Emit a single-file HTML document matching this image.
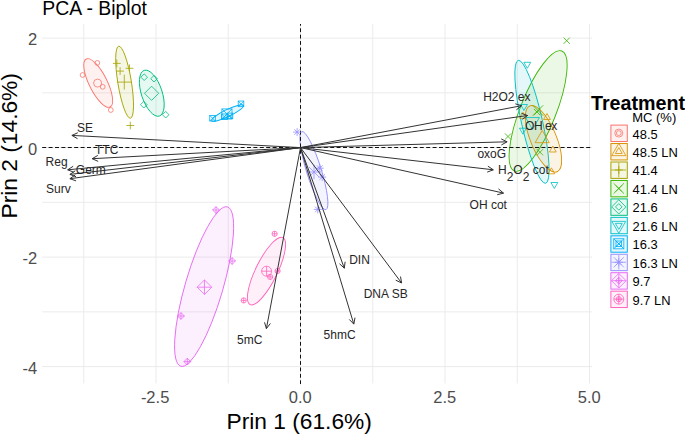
<!DOCTYPE html>
<html><head><meta charset="utf-8"><style>
html,body{margin:0;padding:0;background:#fff;width:685px;height:434px;overflow:hidden;position:relative}
body{font-family:"Liberation Sans",sans-serif;}
.t{position:absolute;white-space:nowrap;line-height:1;}
</style></head><body>
<svg width="685" height="434" viewBox="0 0 685 434" style="position:absolute;left:0;top:0">
<line x1="83.75" y1="24.0" x2="83.75" y2="383.5" stroke="#EBEBEB" stroke-width="1"/>
<line x1="156.00" y1="24.0" x2="156.00" y2="383.5" stroke="#EBEBEB" stroke-width="1"/>
<line x1="228.25" y1="24.0" x2="228.25" y2="383.5" stroke="#EBEBEB" stroke-width="1"/>
<line x1="300.50" y1="24.0" x2="300.50" y2="383.5" stroke="#EBEBEB" stroke-width="1"/>
<line x1="372.75" y1="24.0" x2="372.75" y2="383.5" stroke="#EBEBEB" stroke-width="1"/>
<line x1="445.00" y1="24.0" x2="445.00" y2="383.5" stroke="#EBEBEB" stroke-width="1"/>
<line x1="517.25" y1="24.0" x2="517.25" y2="383.5" stroke="#EBEBEB" stroke-width="1"/>
<line x1="589.50" y1="24.0" x2="589.50" y2="383.5" stroke="#EBEBEB" stroke-width="1"/>
<line x1="42.2" y1="38.10" x2="592.0" y2="38.10" stroke="#EBEBEB" stroke-width="1"/>
<line x1="42.2" y1="92.85" x2="592.0" y2="92.85" stroke="#EBEBEB" stroke-width="1"/>
<line x1="42.2" y1="147.60" x2="592.0" y2="147.60" stroke="#EBEBEB" stroke-width="1"/>
<line x1="42.2" y1="202.35" x2="592.0" y2="202.35" stroke="#EBEBEB" stroke-width="1"/>
<line x1="42.2" y1="257.10" x2="592.0" y2="257.10" stroke="#EBEBEB" stroke-width="1"/>
<line x1="42.2" y1="311.85" x2="592.0" y2="311.85" stroke="#EBEBEB" stroke-width="1"/>
<line x1="42.2" y1="366.60" x2="592.0" y2="366.60" stroke="#EBEBEB" stroke-width="1"/>
<ellipse cx="98.20" cy="83.00" rx="26.82" ry="9.01" transform="rotate(63.47 98.20 83.00)" fill="#F8766D" fill-opacity="0.1" stroke="#F8766D" stroke-width="0.9"/>
<ellipse cx="124.60" cy="82.20" rx="36.50" ry="6.78" transform="rotate(80.73 124.60 82.20)" fill="#A3A500" fill-opacity="0.1" stroke="#A3A500" stroke-width="0.9"/>
<ellipse cx="151.79" cy="93.19" rx="24.08" ry="10.34" transform="rotate(71.57 151.79 93.19)" fill="#00BF7D" fill-opacity="0.1" stroke="#00BF7D" stroke-width="0.9"/>
<ellipse cx="227.58" cy="113.11" rx="17.65" ry="3.50" transform="rotate(-25.79 227.58 113.11)" fill="#00B0F6" fill-opacity="0.1" stroke="#00B0F6" stroke-width="0.9"/>
<ellipse cx="313.90" cy="170.62" rx="40.85" ry="7.39" transform="rotate(72.77 313.90 170.62)" fill="#9590FF" fill-opacity="0.1" stroke="#9590FF" stroke-width="0.9"/>
<ellipse cx="204.11" cy="286.56" rx="83.02" ry="18.88" transform="rotate(-73.69 204.11 286.56)" fill="#E76BF3" fill-opacity="0.1" stroke="#E76BF3" stroke-width="0.9"/>
<ellipse cx="266.50" cy="271.06" rx="37.30" ry="10.81" transform="rotate(-63.92 266.50 271.06)" fill="#FF62BC" fill-opacity="0.1" stroke="#FF62BC" stroke-width="0.9"/>
<ellipse cx="538.10" cy="110.95" rx="64.50" ry="17.90" transform="rotate(-68.40 538.10 110.95)" fill="#39B600" fill-opacity="0.1" stroke="#39B600" stroke-width="0.9"/>
<ellipse cx="531.97" cy="121.83" rx="63.00" ry="10.50" transform="rotate(77.42 531.97 121.83)" fill="#00BFC4" fill-opacity="0.1" stroke="#00BFC4" stroke-width="0.9"/>
<ellipse cx="543.49" cy="138.84" rx="35.64" ry="12.93" transform="rotate(67.39 543.49 138.84)" fill="#D89000" fill-opacity="0.1" stroke="#D89000" stroke-width="0.9"/>
<line x1="300.5" y1="384.1" x2="300.5" y2="24.0" stroke="#111" stroke-width="1" stroke-dasharray="3.8 2.6"/>
<line x1="42.2" y1="147.5" x2="592.0" y2="147.5" stroke="#111" stroke-width="1" stroke-dasharray="4 2.4"/>
<circle cx="97.30" cy="62.90" r="2.40" fill="none" stroke="#F8766D" stroke-width="0.8"/>
<circle cx="82.60" cy="75.00" r="2.40" fill="none" stroke="#F8766D" stroke-width="0.8"/>
<circle cx="102.70" cy="86.80" r="2.40" fill="none" stroke="#F8766D" stroke-width="0.8"/>
<circle cx="110.80" cy="110.00" r="2.40" fill="none" stroke="#F8766D" stroke-width="0.8"/>
<circle cx="97.60" cy="83.10" r="4.00" fill="none" stroke="#F8766D" stroke-width="0.8"/>
<polygon points="523.00,112.32 519.55,118.29 526.45,118.29" fill="none" stroke="#D89000" stroke-width="0.8"/>
<polygon points="547.00,113.52 543.55,119.49 550.45,119.49" fill="none" stroke="#D89000" stroke-width="0.8"/>
<polygon points="552.80,146.02 549.35,151.99 556.25,151.99" fill="none" stroke="#D89000" stroke-width="0.8"/>
<polygon points="551.40,167.82 547.95,173.79 554.85,173.79" fill="none" stroke="#D89000" stroke-width="0.8"/>
<polygon points="542.20,130.40 535.10,142.70 549.30,142.70" fill="none" stroke="#D89000" stroke-width="0.8"/>
<path d="M112.90,63.40H120.70M116.80,59.50V67.30" fill="none" stroke="#A3A500" stroke-width="0.8"/>
<path d="M116.20,71.10H124.00M120.10,67.20V75.00" fill="none" stroke="#A3A500" stroke-width="0.8"/>
<path d="M125.60,68.30H133.40M129.50,64.40V72.20" fill="none" stroke="#A3A500" stroke-width="0.8"/>
<path d="M126.40,125.50H134.20M130.30,121.60V129.40" fill="none" stroke="#A3A500" stroke-width="0.8"/>
<path d="M116.90,82.10H131.70M124.30,74.70V89.50" fill="none" stroke="#A3A500" stroke-width="0.8"/>
<path d="M563.58,37.58L569.82,43.82M563.58,43.82L569.82,37.58" fill="none" stroke="#39B600" stroke-width="0.8"/>
<path d="M533.88,108.88L540.12,115.12M533.88,115.12L540.12,108.88" fill="none" stroke="#39B600" stroke-width="0.8"/>
<path d="M504.88,133.38L511.12,139.62M504.88,139.62L511.12,133.38" fill="none" stroke="#39B600" stroke-width="0.8"/>
<path d="M536.88,149.08L543.12,155.32M536.88,155.32L543.12,149.08" fill="none" stroke="#39B600" stroke-width="0.8"/>
<path d="M532.80,105.30L543.20,115.70M532.80,115.70L543.20,105.30" fill="none" stroke="#39B600" stroke-width="0.8"/>
<polygon points="144.20,73.90 147.50,77.20 144.20,80.50 140.90,77.20" fill="none" stroke="#00BF7D" stroke-width="0.8"/>
<polygon points="154.00,75.40 157.30,78.70 154.00,82.00 150.70,78.70" fill="none" stroke="#00BF7D" stroke-width="0.8"/>
<polygon points="143.80,101.40 147.10,104.70 143.80,108.00 140.50,104.70" fill="none" stroke="#00BF7D" stroke-width="0.8"/>
<polygon points="165.70,111.40 169.00,114.70 165.70,118.00 162.40,114.70" fill="none" stroke="#00BF7D" stroke-width="0.8"/>
<polygon points="151.60,86.20 158.70,93.30 151.60,100.40 144.50,93.30" fill="none" stroke="#00BF7D" stroke-width="0.8"/>
<polygon points="527.30,68.28 523.85,62.31 530.75,62.31" fill="none" stroke="#00BFC4" stroke-width="0.8"/>
<polygon points="524.00,110.48 520.55,104.51 527.45,104.51" fill="none" stroke="#00BFC4" stroke-width="0.8"/>
<polygon points="522.90,134.18 519.45,128.21 526.35,128.21" fill="none" stroke="#00BFC4" stroke-width="0.8"/>
<polygon points="554.35,188.48 550.90,182.51 557.80,182.51" fill="none" stroke="#00BFC4" stroke-width="0.8"/>
<polygon points="532.50,129.47 525.60,117.52 539.40,117.52" fill="none" stroke="#00BFC4" stroke-width="0.8"/>
<rect x="209.75" y="115.45" width="5.60" height="5.60" fill="none" stroke="#00B0F6" stroke-width="0.8"/><path d="M209.75,115.45L215.35,121.05M209.75,121.05L215.35,115.45" fill="none" stroke="#00B0F6" stroke-width="0.8"/>
<rect x="238.20" y="101.05" width="5.60" height="5.60" fill="none" stroke="#00B0F6" stroke-width="0.8"/><path d="M238.20,101.05L243.80,106.65M238.20,106.65L243.80,101.05" fill="none" stroke="#00B0F6" stroke-width="0.8"/>
<rect x="221.60" y="114.00" width="5.60" height="5.60" fill="none" stroke="#00B0F6" stroke-width="0.8"/><path d="M221.60,114.00L227.20,119.60M221.60,119.60L227.20,114.00" fill="none" stroke="#00B0F6" stroke-width="0.8"/>
<rect x="227.20" y="113.10" width="5.60" height="5.60" fill="none" stroke="#00B0F6" stroke-width="0.8"/><path d="M227.20,113.10L232.80,118.70M227.20,118.70L232.80,113.10" fill="none" stroke="#00B0F6" stroke-width="0.8"/>
<rect x="221.91" y="108.91" width="10.08" height="10.08" fill="none" stroke="#00B0F6" stroke-width="0.8"/><path d="M221.91,108.91L231.99,118.99M221.91,118.99L231.99,108.91" fill="none" stroke="#00B0F6" stroke-width="0.8"/>
<path d="M293.10,132.10H301.10M297.10,128.10V136.10M294.30,129.30L299.90,134.90M294.30,134.90L299.90,129.30" fill="none" stroke="#9590FF" stroke-width="0.8"/>
<path d="M315.70,168.20H323.70M319.70,164.20V172.20M316.90,165.40L322.50,171.00M316.90,171.00L322.50,165.40" fill="none" stroke="#9590FF" stroke-width="0.8"/>
<path d="M318.20,177.10H326.20M322.20,173.10V181.10M319.40,174.30L325.00,179.90M319.40,179.90L325.00,174.30" fill="none" stroke="#9590FF" stroke-width="0.8"/>
<path d="M313.80,209.40H321.80M317.80,205.40V213.40M315.00,206.60L320.60,212.20M315.00,212.20L320.60,206.60" fill="none" stroke="#9590FF" stroke-width="0.8"/>
<path d="M306.80,172.00H321.20M314.00,164.80V179.20M308.96,166.96L319.04,177.04M308.96,177.04L319.04,166.96" fill="none" stroke="#9590FF" stroke-width="0.8"/>
<polygon points="216.00,206.60 219.40,210.00 216.00,213.40 212.60,210.00" fill="none" stroke="#E76BF3" stroke-width="0.8"/><path d="M212.60,210.00H219.40M216.00,206.60V213.40" fill="none" stroke="#E76BF3" stroke-width="0.8"/>
<polygon points="232.10,257.60 235.50,261.00 232.10,264.40 228.70,261.00" fill="none" stroke="#E76BF3" stroke-width="0.8"/><path d="M228.70,261.00H235.50M232.10,257.60V264.40" fill="none" stroke="#E76BF3" stroke-width="0.8"/>
<polygon points="181.00,312.60 184.40,316.00 181.00,319.40 177.60,316.00" fill="none" stroke="#E76BF3" stroke-width="0.8"/><path d="M177.60,316.00H184.40M181.00,312.60V319.40" fill="none" stroke="#E76BF3" stroke-width="0.8"/>
<polygon points="187.30,358.20 190.70,361.60 187.30,365.00 183.90,361.60" fill="none" stroke="#E76BF3" stroke-width="0.8"/><path d="M183.90,361.60H190.70M187.30,358.20V365.00" fill="none" stroke="#E76BF3" stroke-width="0.8"/>
<polygon points="204.45,279.90 211.75,287.20 204.45,294.50 197.15,287.20" fill="none" stroke="#E76BF3" stroke-width="0.8"/><path d="M197.15,287.20H211.75M204.45,279.90V294.50" fill="none" stroke="#E76BF3" stroke-width="0.8"/>
<circle cx="274.60" cy="233.80" r="2.60" fill="none" stroke="#FF62BC" stroke-width="0.8"/><path d="M272.00,233.80H277.20M274.60,231.20V236.40" fill="none" stroke="#FF62BC" stroke-width="0.8"/>
<circle cx="270.10" cy="276.90" r="2.60" fill="none" stroke="#FF62BC" stroke-width="0.8"/><path d="M267.50,276.90H272.70M270.10,274.30V279.50" fill="none" stroke="#FF62BC" stroke-width="0.8"/>
<circle cx="277.60" cy="271.00" r="2.60" fill="none" stroke="#FF62BC" stroke-width="0.8"/><path d="M275.00,271.00H280.20M277.60,268.40V273.60" fill="none" stroke="#FF62BC" stroke-width="0.8"/>
<circle cx="243.70" cy="300.40" r="2.60" fill="none" stroke="#FF62BC" stroke-width="0.8"/><path d="M241.10,300.40H246.30M243.70,297.80V303.00" fill="none" stroke="#FF62BC" stroke-width="0.8"/>
<circle cx="266.60" cy="271.20" r="5.00" fill="none" stroke="#FF62BC" stroke-width="0.8"/><path d="M261.60,271.20H271.60M266.60,266.20V276.20" fill="none" stroke="#FF62BC" stroke-width="0.8"/>
<line x1="300.5" y1="147.6" x2="71.90" y2="135.40" stroke="#333333" stroke-width="1"/>
<path d="M77.85,132.71L71.90,135.40L77.53,138.70" fill="none" stroke="#333333" stroke-width="1"/>
<line x1="300.5" y1="147.6" x2="92.20" y2="158.70" stroke="#333333" stroke-width="1"/>
<path d="M97.83,155.40L92.20,158.70L98.15,161.39" fill="none" stroke="#333333" stroke-width="1"/>
<line x1="300.5" y1="147.6" x2="67.70" y2="169.80" stroke="#333333" stroke-width="1"/>
<path d="M73.19,166.26L67.70,169.80L73.76,172.24" fill="none" stroke="#333333" stroke-width="1"/>
<line x1="300.5" y1="147.6" x2="69.90" y2="174.40" stroke="#333333" stroke-width="1"/>
<path d="M75.31,170.75L69.90,174.40L76.01,176.71" fill="none" stroke="#333333" stroke-width="1"/>
<line x1="300.5" y1="147.6" x2="69.90" y2="178.70" stroke="#333333" stroke-width="1"/>
<path d="M75.25,174.95L69.90,178.70L76.05,180.90" fill="none" stroke="#333333" stroke-width="1"/>
<line x1="300.5" y1="147.6" x2="521.60" y2="105.70" stroke="#333333" stroke-width="1"/>
<path d="M516.46,109.73L521.60,105.70L515.34,103.83" fill="none" stroke="#333333" stroke-width="1"/>
<line x1="300.5" y1="147.6" x2="527.60" y2="115.50" stroke="#333333" stroke-width="1"/>
<path d="M522.28,119.28L527.60,115.50L521.44,113.34" fill="none" stroke="#333333" stroke-width="1"/>
<line x1="300.5" y1="147.6" x2="507.10" y2="141.80" stroke="#333333" stroke-width="1"/>
<path d="M501.39,144.96L507.10,141.80L501.22,138.96" fill="none" stroke="#333333" stroke-width="1"/>
<line x1="300.5" y1="147.6" x2="493.30" y2="169.80" stroke="#333333" stroke-width="1"/>
<path d="M487.19,172.12L493.30,169.80L487.88,166.16" fill="none" stroke="#333333" stroke-width="1"/>
<line x1="300.5" y1="147.6" x2="503.50" y2="193.10" stroke="#333333" stroke-width="1"/>
<path d="M497.18,194.76L503.50,193.10L498.50,188.90" fill="none" stroke="#333333" stroke-width="1"/>
<line x1="300.5" y1="147.6" x2="344.30" y2="268.20" stroke="#333333" stroke-width="1"/>
<path d="M339.50,263.77L344.30,268.20L345.14,261.72" fill="none" stroke="#333333" stroke-width="1"/>
<line x1="300.5" y1="147.6" x2="401.60" y2="283.00" stroke="#333333" stroke-width="1"/>
<path d="M395.73,280.15L401.60,283.00L400.53,276.56" fill="none" stroke="#333333" stroke-width="1"/>
<line x1="300.5" y1="147.6" x2="353.80" y2="324.10" stroke="#333333" stroke-width="1"/>
<path d="M349.25,319.41L353.80,324.10L355.00,317.68" fill="none" stroke="#333333" stroke-width="1"/>
<line x1="300.5" y1="147.6" x2="266.40" y2="328.60" stroke="#333333" stroke-width="1"/>
<path d="M264.53,322.34L266.40,328.60L270.42,323.46" fill="none" stroke="#333333" stroke-width="1"/>
<text x="42.3" y="15.1" font-family="Liberation Sans, sans-serif" font-size="19.4" fill="#000" text-anchor="start" font-weight="normal" >PCA - Biplot</text>
<text x="299.2" y="428.6" font-family="Liberation Sans, sans-serif" font-size="22.75" fill="#000" text-anchor="middle" font-weight="normal" >Prin 1 (61.6%)</text>
<text x="0" y="0" font-family="Liberation Sans, sans-serif" font-size="22.75" fill="#000" text-anchor="middle" font-weight="normal" transform="translate(16.9,145.8) rotate(-90)">Prin 2 (14.6%)</text>
<text x="37.2" y="45.2" font-family="Liberation Sans, sans-serif" font-size="16.5" fill="#4D4D4D" text-anchor="end" font-weight="normal" >2</text>
<text x="37.2" y="154.7" font-family="Liberation Sans, sans-serif" font-size="16.5" fill="#4D4D4D" text-anchor="end" font-weight="normal" >0</text>
<text x="37.2" y="264.2" font-family="Liberation Sans, sans-serif" font-size="16.5" fill="#4D4D4D" text-anchor="end" font-weight="normal" >-2</text>
<text x="37.2" y="373.7" font-family="Liberation Sans, sans-serif" font-size="16.5" fill="#4D4D4D" text-anchor="end" font-weight="normal" >-4</text>
<text x="155.1" y="402.7" font-family="Liberation Sans, sans-serif" font-size="16.5" fill="#4D4D4D" text-anchor="middle" font-weight="normal" >-2.5</text>
<text x="300.2" y="402.7" font-family="Liberation Sans, sans-serif" font-size="16.5" fill="#4D4D4D" text-anchor="middle" font-weight="normal" >0.0</text>
<text x="444.7" y="402.7" font-family="Liberation Sans, sans-serif" font-size="16.5" fill="#4D4D4D" text-anchor="middle" font-weight="normal" >2.5</text>
<text x="589.2" y="402.7" font-family="Liberation Sans, sans-serif" font-size="16.5" fill="#4D4D4D" text-anchor="middle" font-weight="normal" >5.0</text>
<text x="77.0" y="132.0" font-family="Liberation Sans, sans-serif" font-size="12" fill="#262626" text-anchor="start" font-weight="normal" >SE</text>
<text x="95.0" y="154.0" font-family="Liberation Sans, sans-serif" font-size="12" fill="#262626" text-anchor="start" font-weight="normal" >TTC</text>
<text x="45.6" y="165.8" font-family="Liberation Sans, sans-serif" font-size="12" fill="#262626" text-anchor="start" font-weight="normal" >Reg</text>
<text x="75.8" y="174.0" font-family="Liberation Sans, sans-serif" font-size="12" fill="#262626" text-anchor="start" font-weight="normal" >Germ</text>
<text x="46.0" y="193.4" font-family="Liberation Sans, sans-serif" font-size="12" fill="#262626" text-anchor="start" font-weight="normal" >Surv</text>
<text x="483.2" y="101.4" font-family="Liberation Sans, sans-serif" font-size="12" fill="#262626" text-anchor="start" font-weight="normal" >H2O2 ex</text>
<text x="525.0" y="130.3" font-family="Liberation Sans, sans-serif" font-size="12" fill="#262626" text-anchor="start" font-weight="normal" letter-spacing="-0.45">OH ex</text>
<text x="477.4" y="157.6" font-family="Liberation Sans, sans-serif" font-size="12" fill="#262626" text-anchor="start" font-weight="normal" >oxoG</text>
<text x="469.6" y="208.5" font-family="Liberation Sans, sans-serif" font-size="12" fill="#262626" text-anchor="start" font-weight="normal" >OH cot</text>
<text x="349.2" y="264.0" font-family="Liberation Sans, sans-serif" font-size="12" fill="#262626" text-anchor="start" font-weight="normal" >DIN</text>
<text x="363.7" y="297.8" font-family="Liberation Sans, sans-serif" font-size="12" fill="#262626" text-anchor="start" font-weight="normal" >DNA SB</text>
<text x="323.6" y="339.2" font-family="Liberation Sans, sans-serif" font-size="12" fill="#262626" text-anchor="start" font-weight="normal" >5hmC</text>
<text x="237.0" y="343.8" font-family="Liberation Sans, sans-serif" font-size="12" fill="#262626" text-anchor="start" font-weight="normal" >5mC</text>
<text x="498.0" y="173.8" font-family="Liberation Sans, sans-serif" font-size="12" fill="#262626">H<tspan dy="7">2</tspan><tspan dy="-7">O</tspan><tspan dy="7">2</tspan><tspan dy="-7"> cot</tspan></text>
<text x="591.0" y="110.0" font-family="Liberation Sans, sans-serif" font-size="19.7" fill="#000" text-anchor="start" font-weight="bold" >Treatment</text>
<text x="632.2" y="122.0" font-family="Liberation Sans, sans-serif" font-size="13" fill="#000" text-anchor="start" font-weight="normal" >MC (%)</text>
<rect x="610.9" y="125.10" width="16.4" height="16.4" fill="#F8766D" fill-opacity="0.1" stroke="#F8766D" stroke-width="1"/>
<circle cx="618.80" cy="133.10" r="2.40" fill="none" stroke="#F8766D" stroke-width="0.8"/>
<circle cx="618.80" cy="133.10" r="4.00" fill="none" stroke="#F8766D" stroke-width="0.8"/>
<text x="632.6" y="138.5" font-family="Liberation Sans, sans-serif" font-size="12.9" fill="#000" text-anchor="start" font-weight="normal" >48.5</text>
<rect x="610.9" y="143.55" width="16.4" height="16.4" fill="#D89000" fill-opacity="0.1" stroke="#D89000" stroke-width="1"/>
<polygon points="618.80,147.57 615.35,153.54 622.25,153.54" fill="none" stroke="#D89000" stroke-width="0.8"/>
<polygon points="618.80,143.35 611.70,155.65 625.90,155.65" fill="none" stroke="#D89000" stroke-width="0.8"/>
<text x="632.6" y="156.95" font-family="Liberation Sans, sans-serif" font-size="12.9" fill="#000" text-anchor="start" font-weight="normal" >48.5 LN</text>
<rect x="610.9" y="162.00" width="16.4" height="16.4" fill="#A3A500" fill-opacity="0.1" stroke="#A3A500" stroke-width="1"/>
<path d="M614.90,170.00H622.70M618.80,166.10V173.90" fill="none" stroke="#A3A500" stroke-width="0.8"/>
<path d="M611.40,170.00H626.20M618.80,162.60V177.40" fill="none" stroke="#A3A500" stroke-width="0.8"/>
<text x="632.6" y="175.4" font-family="Liberation Sans, sans-serif" font-size="12.9" fill="#000" text-anchor="start" font-weight="normal" >41.4</text>
<rect x="610.9" y="180.45" width="16.4" height="16.4" fill="#39B600" fill-opacity="0.1" stroke="#39B600" stroke-width="1"/>
<path d="M615.68,185.33L621.92,191.57M615.68,191.57L621.92,185.33" fill="none" stroke="#39B600" stroke-width="0.8"/>
<path d="M613.60,183.25L624.00,193.65M613.60,193.65L624.00,183.25" fill="none" stroke="#39B600" stroke-width="0.8"/>
<text x="632.6" y="193.85" font-family="Liberation Sans, sans-serif" font-size="12.9" fill="#000" text-anchor="start" font-weight="normal" >41.4 LN</text>
<rect x="610.9" y="198.90" width="16.4" height="16.4" fill="#00BF7D" fill-opacity="0.1" stroke="#00BF7D" stroke-width="1"/>
<polygon points="618.80,203.60 622.10,206.90 618.80,210.20 615.50,206.90" fill="none" stroke="#00BF7D" stroke-width="0.8"/>
<polygon points="618.80,199.80 625.90,206.90 618.80,214.00 611.70,206.90" fill="none" stroke="#00BF7D" stroke-width="0.8"/>
<text x="632.6" y="212.3" font-family="Liberation Sans, sans-serif" font-size="12.9" fill="#000" text-anchor="start" font-weight="normal" >21.6</text>
<rect x="610.9" y="217.35" width="16.4" height="16.4" fill="#00BFC4" fill-opacity="0.1" stroke="#00BFC4" stroke-width="1"/>
<polygon points="618.80,229.33 615.35,223.36 622.25,223.36" fill="none" stroke="#00BFC4" stroke-width="0.8"/>
<polygon points="618.80,233.32 611.90,221.37 625.70,221.37" fill="none" stroke="#00BFC4" stroke-width="0.8"/>
<text x="632.6" y="230.75" font-family="Liberation Sans, sans-serif" font-size="12.9" fill="#000" text-anchor="start" font-weight="normal" >21.6 LN</text>
<rect x="610.9" y="235.80" width="16.4" height="16.4" fill="#00B0F6" fill-opacity="0.1" stroke="#00B0F6" stroke-width="1"/>
<rect x="616.00" y="241.00" width="5.60" height="5.60" fill="none" stroke="#00B0F6" stroke-width="0.8"/><path d="M616.00,241.00L621.60,246.60M616.00,246.60L621.60,241.00" fill="none" stroke="#00B0F6" stroke-width="0.8"/>
<rect x="613.76" y="238.76" width="10.08" height="10.08" fill="none" stroke="#00B0F6" stroke-width="0.8"/><path d="M613.76,238.76L623.84,248.84M613.76,248.84L623.84,238.76" fill="none" stroke="#00B0F6" stroke-width="0.8"/>
<text x="632.6" y="249.2" font-family="Liberation Sans, sans-serif" font-size="12.9" fill="#000" text-anchor="start" font-weight="normal" >16.3</text>
<rect x="610.9" y="254.25" width="16.4" height="16.4" fill="#9590FF" fill-opacity="0.1" stroke="#9590FF" stroke-width="1"/>
<path d="M614.80,262.25H622.80M618.80,258.25V266.25M616.00,259.45L621.60,265.05M616.00,265.05L621.60,259.45" fill="none" stroke="#9590FF" stroke-width="0.8"/>
<path d="M611.60,262.25H626.00M618.80,255.05V269.45M613.76,257.21L623.84,267.29M613.76,267.29L623.84,257.21" fill="none" stroke="#9590FF" stroke-width="0.8"/>
<text x="632.6" y="267.65" font-family="Liberation Sans, sans-serif" font-size="12.9" fill="#000" text-anchor="start" font-weight="normal" >16.3 LN</text>
<rect x="610.9" y="272.70" width="16.4" height="16.4" fill="#E76BF3" fill-opacity="0.1" stroke="#E76BF3" stroke-width="1"/>
<polygon points="618.80,277.30 622.20,280.70 618.80,284.10 615.40,280.70" fill="none" stroke="#E76BF3" stroke-width="0.8"/><path d="M615.40,280.70H622.20M618.80,277.30V284.10" fill="none" stroke="#E76BF3" stroke-width="0.8"/>
<polygon points="618.80,273.40 626.10,280.70 618.80,288.00 611.50,280.70" fill="none" stroke="#E76BF3" stroke-width="0.8"/><path d="M611.50,280.70H626.10M618.80,273.40V288.00" fill="none" stroke="#E76BF3" stroke-width="0.8"/>
<text x="632.6" y="286.1" font-family="Liberation Sans, sans-serif" font-size="12.9" fill="#000" text-anchor="start" font-weight="normal" >9.7</text>
<rect x="610.9" y="291.15" width="16.4" height="16.4" fill="#FF62BC" fill-opacity="0.1" stroke="#FF62BC" stroke-width="1"/>
<circle cx="618.80" cy="299.15" r="2.60" fill="none" stroke="#FF62BC" stroke-width="0.8"/><path d="M616.20,299.15H621.40M618.80,296.55V301.75" fill="none" stroke="#FF62BC" stroke-width="0.8"/>
<circle cx="618.80" cy="299.15" r="5.00" fill="none" stroke="#FF62BC" stroke-width="0.8"/><path d="M613.80,299.15H623.80M618.80,294.15V304.15" fill="none" stroke="#FF62BC" stroke-width="0.8"/>
<text x="632.6" y="304.55" font-family="Liberation Sans, sans-serif" font-size="12.9" fill="#000" text-anchor="start" font-weight="normal" >9.7 LN</text>
</svg>
</body></html>
